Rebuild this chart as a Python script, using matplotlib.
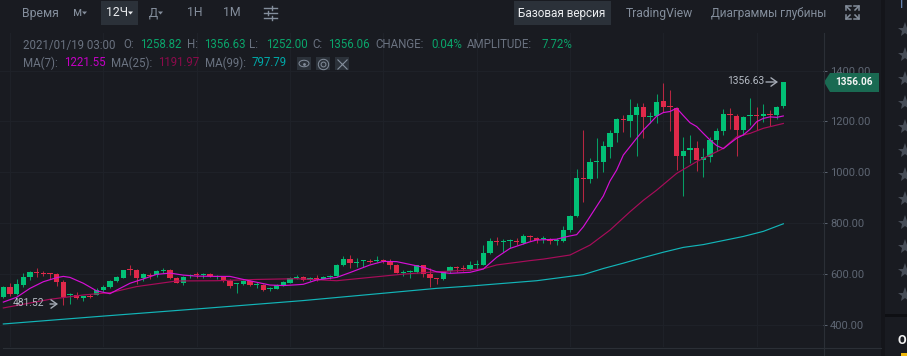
import matplotlib
matplotlib.use("Agg")
import matplotlib.pyplot as plt
from matplotlib.patches import Polygon, Rectangle, Ellipse

plt.rcParams['font.family'] = ['Roboto', 'DejaVu Sans']

# candles, 12h
opens = [509,551,520,556,590,606,606,603,600,569,518,518,506,514,519,536,551,574,586,616,
         615,583,594,595,612,615,583,564,591,598,598,600,589,590,574,560,561,573,557,557,
         541,543,558,566,586,589,577,585,581,590,592,636,659,645,650,653,651,657,650,636,
         604,607,608,634,599,583,581,611,625,625,620,634,637,683,730,727,729,729,724,751,
         743,737,738,731,729,773,828,978,975,1039,1042,1101,1153,1210,1203,1225,1256,1216,1221,1279,
         1259,1254,1066,1088,1096,1049,1059,1128,1164,1229,1223,1167,1220,1225,1220,1229,1224,1258.82]
highs = [553,564,579,603,613,623,613,603,603,577,527,530,515,520,547,556,577,592,616,636,
         619,603,603,616,624,619,590,591,599,607,604,603,598,592,579,566,578,577,569,560,
         551,560,574,590,595,591,587,595,592,596,640,670,675,663,655,658,671,661,658,638,
         617,615,637,637,623,585,613,632,632,634,651,654,714,741,746,738,738,742,758,755,
         746,750,743,742,789,832,1013,1166,1055,1134,1123,1166,1215,1227,1288,1271,1271,1236,1307,1350,
         1324,1258,1140,1147,1125,1094,1138,1173,1249,1252,1229,1221,1291,1256,1267,1245,1261,1356.63]
lows = [505,514,518,551,577,587,592,579,555,479,481,501,493,505,517,531,547,570,585,596,
        561,574,582,590,604,582,564,557,583,586,586,589,579,570,545,527,557,553,545,534,
        535,540,553,564,579,573,573,572,579,579,590,633,625,629,629,644,646,645,620,603,
        594,585,606,590,551,562,577,603,607,612,616,621,634,680,713,687,703,716,720,729,
        721,724,718,714,726,767,826,885,957,977,1003,1058,1118,1160,1138,1066,1134,1195,1195,1239,
        1164,1009,908,1038,1005,983,1042,1085,1147,1169,1066,1147,1186,1167,1199,1184,1210,1252.00]
closes = [551,522,560,590,608,603,602,602,570,509,520,506,515,511,537,551,574,587,615,615,
          586,599,592,612,615,586,566,589,595,595,600,591,592,574,555,562,573,556,560,537,
          544,558,569,585,589,577,585,582,589,593,636,659,642,649,653,649,657,653,637,604,
          607,610,634,600,583,581,610,628,623,620,634,637,682,729,727,731,731,726,750,747,
          735,741,731,735,773,828,979,975,1041,1042,1102,1153,1210,1204,1224,1256,1216,1220,1278,1258,
          1256,1066,1085,1096,1049,1059,1128,1164,1229,1224,1167,1218,1225,1220,1229,1225,1257,1356.06]

ma7_idx = [0,2,4,6,8,9,10,12,14,16,17,19,21,23,25,27,29,32,34,36,38,40,42,44,45,47,50,52,55,57,59,61,63,65,67,70,72,74,76,79,80,83,84,85,86,87,88,90,91,92,93,95,96,97,98,99,100,101,102,103,104,105,106,107,108,109,110,111,112,113,114,115,116,117]
ma7 = [490,509,544,570,586,591,587,564,534,523,537,564,581,599,604,596,592,591,591,579,568,557,555,558,560,577,587,606,636,650,649,638,627,609,603,607,620,666,701,727,734,737,744,750,755,786,826,907,966,1009,1068,1134,1166,1193,1221,1235,1239,1252,1223,1195,1180,1153,1127,1105,1093,1114,1134,1147,1169,1199,1212,1218,1216,1221.55]
ma25_idx = [0,7,12,16,20,26,32,38,44,50,55,60,65,70,72,74,79,81,85,88,91,94,96,98,101,104,108,110,112,114,117]
ma25 = [467,501,518,527,551,573,574,579,582,574,587,600,609,616,621,636,653,659,675,714,773,845,890,930,996,1042,1094,1140,1153,1173,1191.97]
ma99_idx = [0,15,30,45,65,70,80,87,90,93,95,99,102,105,108,111,114,117]
ma99 = [404,435,465,496,544,553,574,598,622,643,658,686,705,716,732,748,768,797.79]

yticks = [400, 600, 800, 1000, 1200, 1400]
xgrid = [1, 15, 29, 43, 57, 71, 85, 99, 113]

BG = '#191b21'
GREEN = '#02c076'
RED = '#e0294a'
GRID = '#1f2229'
LINE = '#2b2f36'
MUTED = '#5e6673'
HEAD = '#6a7280'
LABEL = '#848e9c'
VALUE = '#0aa56b'

fig = plt.figure(figsize=(9.07, 3.56), dpi=100, facecolor=BG)
ax = fig.add_axes([0, 9 / 356, 823 / 907, 314 / 356], facecolor=BG)

for i in range(len(opens)):
    col = GREEN if closes[i] >= opens[i] else RED
    ax.vlines(i, lows[i], highs[i], color=col, lw=0.75, alpha=0.8, zorder=2)
    h = max(abs(closes[i] - opens[i]), 4)
    ax.bar(i, h, bottom=min(opens[i], closes[i]), width=0.8, color=col, lw=0, zorder=3)

ax.plot(ma99_idx, ma99, color='#12b5b8', lw=0.85, zorder=4)
ax.plot(ma25_idx, ma25, color='#a80c5a', lw=0.85, zorder=4)
ax.plot(ma7_idx, ma7, color='#d60fd6', lw=0.85, zorder=4)

ax.set_xlim(-0.5, 122.95)
ax.set_ylim(313.5, 1547.6)
ax.set_yticks(yticks)
ax.set_xticks(xgrid)
ax.grid(True, color=GRID, lw=0.7, zorder=0)
ax.tick_params(left=False, bottom=False, labelleft=False, labelbottom=False,
               right=True, labelright=True, color=MUTED, length=3, width=0.7,
               labelcolor=MUTED, labelsize=8, pad=2)
ax.set_yticklabels(['%.2f' % t for t in yticks])
for s in ax.spines.values():
    s.set_visible(False)

# overlay in pixels for the page furniture
ui = fig.add_axes([0, 0, 1, 1], facecolor='none')
ui.set_xlim(0, 907)
ui.set_ylim(356, 0)
ui.axis('off')

def txt(x, y, s, color=LABEL, size=8.3, **kw):
    ui.text(x, y, s, color=color, fontsize=size, va='center', ha=kw.pop('ha', 'left'), **kw)

def box(x0, y0, x1, y1, color, **kw):
    ui.add_patch(Rectangle((x0, y0), x1 - x0, y1 - y0, color=color, lw=0, **kw))

# page structure
ui.plot([823.5, 823.5], [33, 356], color=LINE, lw=0.8)
ui.plot([3, 881], [348, 348], color=LINE, lw=0.8)
box(881, 0, 885, 356, '#14151a')
box(885, 314, 907, 317, '#0e0f13')
for y in [30, 55, 79, 103, 127, 151, 175, 199, 223, 247, 271, 295]:
    ui.plot(905, y, marker='*', ms=11, color='#474d57', mew=0, clip_on=True)
txt(900, 5, 'Г', color='#6f8fc0', size=9)
txt(898, 340, 'О', color='#f0f0f0', size=9, fontweight='bold')
box(901, 353, 907, 356, '#f0b90b')

# toolbar
box(101, 1, 138, 25, '#2b3139')
box(514, 1, 611, 25, '#2b3139')
txt(22, 13, 'Время', size=8.8)
txt(73, 13, 'м', size=8.8)
txt(106, 13, '12Ч', color='#eaecef', size=8.8)
txt(149, 13, 'Д', size=8.8)
txt(187, 13, '1Н', size=8.8)
txt(223, 13, '1М', size=8.8)
for x, c in [(82, LABEL), (128, '#eaecef'), (158, LABEL)]:
    ui.add_patch(Polygon([(x, 11.5), (x + 5, 11.5), (x + 2.5, 14.5)], color=c, lw=0))
txt(518, 13, 'Базовая версия', color='#eaecef', size=8.5)
txt(626, 13, 'TradingView', size=8.7)
txt(711, 13, 'Диаграммы глубины', size=8.5)

# settings icon
for y, m in [(8, 272), (13, 268), (18, 272)]:
    ui.plot([264, 277], [y, y], color=LABEL, lw=1)
    ui.plot([m, m], [y - 2, y + 2], color=LABEL, lw=1)
# fullscreen icon
for cx, cy, sx, sy in [(846, 6, 1, 1), (859, 6, -1, 1), (846, 19, 1, -1), (859, 19, -1, -1)]:
    ui.plot([cx, cx, cx + 5 * sx], [cy + 4 * sy, cy, cy], color=LABEL, lw=1.1)
    ui.plot([cx, cx + 4 * sx], [cy, cy + 4 * sy], color=LABEL, lw=1.1)

# header rows
row1 = [(23, '2021/01/19 03:00', HEAD), (123, 'O:', HEAD), (140, '1258.82', VALUE),
        (187, 'H:', HEAD), (204, '1356.63', VALUE), (249, 'L:', HEAD), (266, '1252.00', VALUE),
        (312, 'C:', HEAD), (328, '1356.06', VALUE), (375, 'CHANGE:', HEAD), (431, '0.04%', VALUE),
        (467, 'AMPLITUDE:', HEAD), (542, '7.72%', VALUE)]
row2 = [(23, 'MA(7):', HEAD), (64, '1221.55', '#c400c4'), (111, 'MA(25):', HEAD),
        (158, '1191.97', '#8c0a4b'), (205, 'MA(99):', HEAD), (252, '797.79', '#00a8a8')]
for x, s, c in row1:
    txt(x, 45, s, color=c)
for x, s, c in row2:
    txt(x, 63, s, color=c)

for x0 in [297, 316, 335]:
    box(x0, 57, x0 + 14, 70, '#2b3139')
ui.add_patch(Ellipse((304, 63.5), 10, 6.5, fill=False, ec=LABEL, lw=0.7))
ui.plot(304, 63.5, marker='o', ms=2, color=LABEL, mew=0)
ui.plot(323, 63.5, marker='o', ms=7.5, mfc='none', mec=LABEL, mew=0.7)
ui.plot(323, 63.5, marker='o', ms=3.5, mfc='none', mec=LABEL, mew=0.7)
ui.plot(342, 63.5, marker='x', ms=7, color=LABEL, mew=0.8)

# last price tag
ui.add_patch(Polygon([(824, 82), (830, 73), (879, 73), (879, 92), (830, 92)], color='#1a6a52', lw=0))
txt(835.5, 82, '1356.06', color='#f5f5f5', size=7.2, fontweight='bold')

# high / low markers
arrow = dict(arrowstyle='->,head_length=0.35,head_width=0.25', color='#a4aab4', lw=1.0, shrinkA=0, shrinkB=0, mutation_scale=12)
txt(727, 81.5, '1356.63', color='#b7bdc6', size=7.4)
ui.annotate('', xy=(778, 82), xytext=(766, 82), arrowprops=arrow)
txt(12.5, 303.5, '481.52', color='#b7bdc6', size=7.4)
ui.annotate('', xy=(58, 304), xytext=(50, 304), arrowprops=arrow)

fig.savefig('out.png', dpi=100, facecolor=BG)
